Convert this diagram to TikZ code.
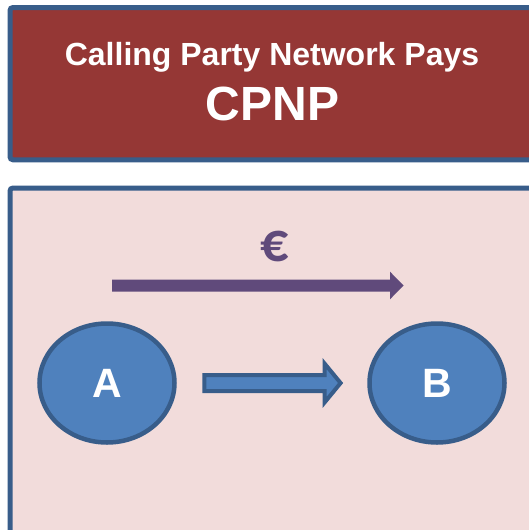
\documentclass[tikz,border=0pt]{standalone}
\usepackage{fontspec}
\setmainfont{Liberation Sans}
\newfontfamily\eurofont{Carlito}
\usetikzlibrary{shapes.geometric}
\definecolor{bordblue}{HTML}{385D8A}
\definecolor{banred}{HTML}{953735}
\definecolor{boxpink}{HTML}{F2DCDB}
\definecolor{ellblue}{HTML}{4F81BD}
\definecolor{eurpurple}{HTML}{604A7B}
\begin{document}
\begin{tikzpicture}[x=1pt,y=-1pt,
  panel/.style={draw=bordblue,line width=5pt,rounded corners=3pt},
  party/.style={ellipse,draw=bordblue,fill=ellblue,line width=4.5pt,
    minimum width=135pt,minimum height=119pt,inner sep=0pt,
    text=white,font=\fontsize{41}{48}\selectfont\bfseries},
  titletext/.style={text=white,anchor=base,inner sep=0pt}]
\useasboundingbox (0,0) rectangle (529,530);
\clip (0,0) rectangle (529,530);
\fill[white] (0,0) rectangle (529,530);
% banner
\draw[panel,fill=banred] (10,7.5) rectangle (545,159.8);
\node[titletext,font=\fontsize{32}{38}\selectfont\bfseries] (t1) at (272,65) {Calling Party Network Pays};
\node[titletext,font=\fontsize{48}{56}\selectfont\bfseries] (t2) at (272.5,120.5) {CPNP};
% lower panel
\draw[panel,fill=boxpink] (10,188) rectangle (545,545);
% money flow
\node[anchor=base,inner sep=0pt,text=eurpurple,font=\eurofont\fontsize{56}{64}\selectfont\bfseries] (eur) at (275,261.5) {€};
\fill[eurpurple] (112,279.5) -- (390,279.5) -- (390,271.7) -- (403.5,285.5) -- (390,299.3) -- (390,291.5) -- (112,291.5) -- cycle;
% parties
\node[party] (A) at (107,383) {A};
\node[party] (B) at (437,383) {B};
% call arrow
\draw[draw=bordblue,fill=ellblue,line width=4pt,line join=miter]
  (204.3,375) -- (324.7,375) -- (324.7,363.7) -- (340.6,383) -- (324.7,402.3) -- (324.7,391) -- (204.3,391) -- cycle;
\end{tikzpicture}
\end{document}
